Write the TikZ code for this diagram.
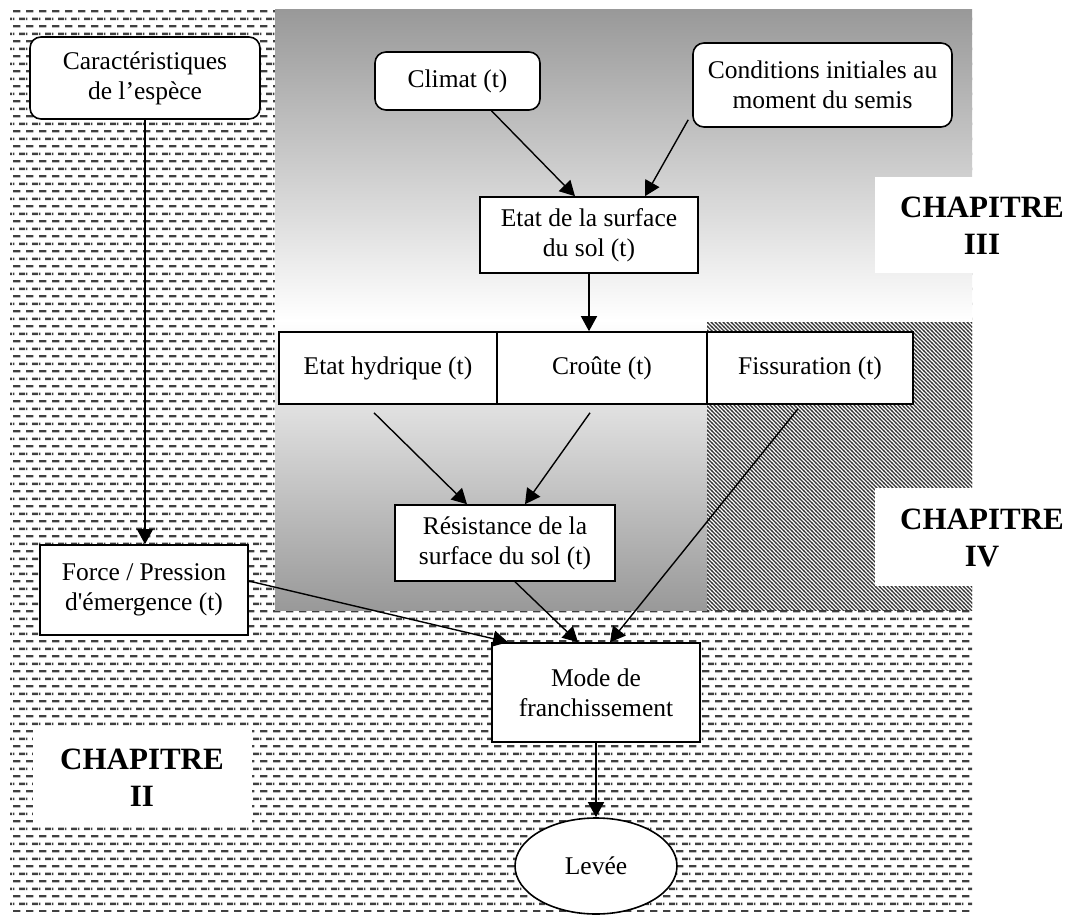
\documentclass[tikz,border=0pt]{standalone}
\usepackage{fontspec}
\setmainfont{Liberation Serif}
\usetikzlibrary{arrows.meta,patterns,shapes.geometric}

% motifs de fond
\pgfdeclarepatternformonly{tirets}{\pgfpointorigin}{\pgfpoint{13pt}{15.4pt}}{\pgfpoint{13pt}{15.4pt}}{
  \pgfsetlinewidth{2.4pt}
  \pgfpathmoveto{\pgfpoint{0pt}{3.85pt}}\pgfpathlineto{\pgfpoint{8pt}{3.85pt}}
  \pgfpathmoveto{\pgfpoint{6.5pt}{11.55pt}}\pgfpathlineto{\pgfpoint{13pt}{11.55pt}}
  \pgfpathmoveto{\pgfpoint{0pt}{11.55pt}}\pgfpathlineto{\pgfpoint{1.5pt}{11.55pt}}
  \pgfusepath{stroke}}
\pgfdeclarepatternformonly{hachures}{\pgfpoint{-1pt}{-1pt}}{\pgfpoint{5pt}{5pt}}{\pgfpoint{4pt}{4pt}}{
  \pgfsetlinewidth{1.1pt}
  \pgfpathmoveto{\pgfpoint{-0.2pt}{4.2pt}}\pgfpathlineto{\pgfpoint{4.2pt}{-0.2pt}}
  \pgfusepath{stroke}}

\newcommand{\apos}{\XeTeXglyph\XeTeXcharglyph"27 }

\tikzset{
  boite/.style={draw, line width=1.6pt, fill=white, align=center, inner sep=0pt,
    font=\fontsize{25.5}{30}\selectfont},
  arrondi/.style={boite, rounded corners=11pt},
  fleche/.style={-{Triangle[length=15pt,width=16pt]}, line width=1.4pt},
  chapitre/.style={align=center, font=\fontsize{31}{37}\selectfont\bfseries}
}

\begin{document}
\begin{tikzpicture}[x=1pt,y=-1pt]
\useasboundingbox (0,0) rectangle (1071,915);
% fonds
\fill[pattern=tirets, pattern color=black!75] (10,10) rectangle (972,911);
\fill[white] (275,10) rectangle (972,610);
\shade[top color=black!40, bottom color=white] (275,10) rectangle (972,320);
\shade[top color=white, bottom color=black!40] (275,320) rectangle (707,610);
\fill[pattern=hachures, pattern color=black!80] (707,322) rectangle (972,610);
\fill[white] (875,177) rectangle (1071,273);
\fill[white] (875,488) rectangle (1071,586);
\fill[white] (33,730) rectangle (252,827);
\node[chapitre] (chIII) at (982,226) {CHAPITRE\\III};
\node[chapitre] (chIV) at (982,538) {CHAPITRE\\IV};
\node[chapitre] (chII) at (142,778) {CHAPITRE\\II};
% boites
\node[arrondi, minimum width=230pt, minimum height=82pt] (carac) at (145,78) {Caractéristiques\\de l’espèce};
\node[arrondi, minimum width=165pt, minimum height=58pt] (climat) at (457.5,81) {Climat (t)};
\node[arrondi, minimum width=259pt, minimum height=84pt] (cond) at (822.5,85) {Conditions initiales au\\moment du semis};
\node[boite, minimum width=218pt, minimum height=76pt] (etat) at (589,235) {Etat de la surface\\du sol (t)};
\node[boite, minimum width=218pt, minimum height=72pt] (hydr) at (388,368) {Etat hydrique (t)};
\node[boite, minimum width=210pt, minimum height=72pt] (croute) at (602,368) {Croûte (t)};
\node[boite, minimum width=206pt, minimum height=72pt] (fiss) at (810,368) {Fissuration (t)};
\node[boite, minimum width=220pt, minimum height=76pt] (resist) at (505,543) {Résistance de la\\surface du sol (t)};
\node[boite, minimum width=208pt, minimum height=90pt] (force) at (144,590) {Force / Pression\\d\apos émergence (t)};
\node[boite, minimum width=208pt, minimum height=99pt] (mode) at (596,692.5) {Mode de\\franchissement};
\node[boite, ellipse, minimum width=162pt, minimum height=96pt] (levee) at (596,866) {Levée};
% fleches
\draw[fleche] (carac) -- (carac |- force.north);
\draw[fleche] ([xshift=34pt]climat.south) -- ([xshift=-14pt]etat.north);
\draw[fleche] ([xshift=-4pt,yshift=8pt]cond.south west) -- ([xshift=56pt]etat.north);
\draw[fleche] (etat) -- (etat |- croute.north);
\draw[fleche] ([xshift=-14pt,yshift=-8pt]hydr.south) -- ([xshift=-38pt]resist.north);
\draw[fleche] ([xshift=-12pt,yshift=-8pt]croute.south) -- ([xshift=20pt]resist.north);
\draw[fleche] ([xshift=-12pt,yshift=-4pt]fiss.south) -- ([xshift=14pt]mode.north);
\draw[fleche] ([xshift=10pt]resist.south) -- ([xshift=-18pt]mode.north);
\draw[fleche] ([yshift=9pt]force.east) -- ([xshift=-88pt]mode.north);
\draw[fleche] (mode) -- (levee);
\end{tikzpicture}
\end{document}
